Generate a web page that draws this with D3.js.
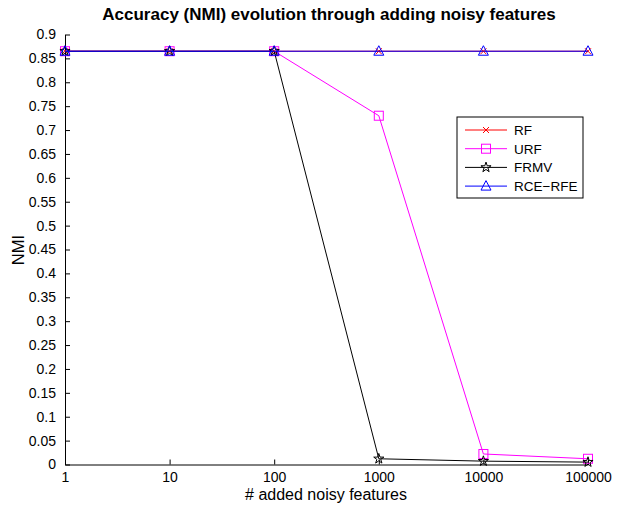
<!DOCTYPE html>
<html>
<head>
<meta charset="utf-8">
<script src="https://cdn.jsdelivr.net/npm/d3@7"></script>
<style>
body{margin:0;background:#fff;}
svg text{font-family:"Liberation Sans",Arial,Helvetica,sans-serif;}
</style>
</head>
<body>
<svg id="chart" width="617" height="505"></svg>
<script>
///--------------------données
var xVals = [1, 10, 100, 1000, 10000, 100000];
var xLabels = ["1", "10", "100", "1000", "10000", "100000"];
var rf = [0.865, 0.865, 0.865, 0.865, 0.865, 0.865];
var urf = [0.865, 0.865, 0.865, 0.73, 0.022, 0.012];
var frmv = [0.865, 0.865, 0.865, 0.012, 0.007, 0.005];
var rcerfe = [0.865, 0.865, 0.865, 0.865, 0.865, 0.865];
var seriesNames = ["RF", "URF", "FRMV", "RCE\u2212RFE"];
var yTicks = d3.range(0, 0.901, 0.05);

///--------------------géométrie
var gLeft = 65, gRight = 588, gTop = 34.5, gBottom = 464.5;
var svg = d3.select("#chart");

var x = d3.scaleLog().domain([1, 100000]).range([gLeft, gRight]);
var y = d3.scaleLinear().domain([0, 0.9]).range([gBottom, gTop]);

// axes, ticks vers l'intérieur façon matlab
var gx = svg.append("g").attr("transform", "translate(0," + gBottom + ")")
	.call(d3.axisBottom(x).tickValues(xVals).tickFormat(function(d, i){ return xLabels[i]; }).tickSizeInner(-5).tickSizeOuter(0).tickPadding(8));
var gy = svg.append("g").attr("transform", "translate(" + gLeft + ",0)")
	.call(d3.axisLeft(y).tickValues(yTicks).tickFormat(function(d){ return +d.toFixed(2) + ""; }).tickSizeInner(-5).tickSizeOuter(0).tickPadding(9));
[gx, gy].forEach(function(g){
	g.selectAll("path").attr("stroke", "#000").attr("stroke-width", 1);
	g.selectAll("line").attr("stroke", "#000").attr("stroke-width", 1);
	g.selectAll("text").attr("font-size", 14).attr("fill", "#000").style("font-family", "Liberation Sans, Arial, sans-serif");
});

///--------------------marqueurs
function marker(g, type, color, cx, cy){
	if(type == "x"){
		g.append("path").attr("d", "M" + (cx-3) + "," + (cy-3) + "L" + (cx+3) + "," + (cy+3) + "M" + (cx-3) + "," + (cy+3) + "L" + (cx+3) + "," + (cy-3))
			.attr("stroke", color).attr("stroke-width", 1).attr("fill", "none");
	} else if(type == "square"){
		g.append("rect").attr("x", cx-4.5).attr("y", cy-4.5).attr("width", 9).attr("height", 9)
			.attr("stroke", color).attr("stroke-width", 1).attr("fill", "none");
	} else if(type == "star"){
		g.append("path").attr("d", d3.symbol(d3.symbolStar, 32)()).attr("transform", "translate(" + cx + "," + cy + ")")
			.attr("stroke", color).attr("stroke-width", 1).attr("fill", "none");
	} else {
		g.append("path").attr("d", "M" + cx + "," + (cy-5.5) + "L" + (cx+5) + "," + (cy+4) + "L" + (cx-5) + "," + (cy+4) + "Z")
			.attr("stroke", color).attr("stroke-width", 1).attr("fill", "none");
	}
}

var series = [
	{name: seriesNames[0], vals: rf, color: "#ff0000", m: "x"},
	{name: seriesNames[1], vals: urf, color: "#ff00ff", m: "square"},
	{name: seriesNames[2], vals: frmv, color: "#000000", m: "star"},
	{name: seriesNames[3], vals: rcerfe, color: "#0000ff", m: "tri"}
];

var line = d3.line().x(function(d, i){ return x(xVals[i]); }).y(function(d){ return y(d); });

series.forEach(function(s){
	var g = svg.append("g");
	g.append("path").attr("d", line(s.vals)).attr("fill", "none").attr("stroke", s.color).attr("stroke-width", 1);
	for(var i = 0; i < s.vals.length; i++){
		marker(g, s.m, s.color, x(xVals[i]), y(s.vals[i]));
	}
});

///--------------------légende
var lg = svg.append("g").attr("transform", "translate(457,117)");
lg.append("rect").attr("width", 126).attr("height", 81).attr("fill", "#fff").attr("stroke", "#000").attr("stroke-width", 1);
series.forEach(function(s, i){
	var yy = 13 + i * 18.7;
	lg.append("line").attr("x1", 8).attr("x2", 50).attr("y1", yy).attr("y2", yy).attr("stroke", s.color).attr("stroke-width", 1);
	marker(lg, s.m, s.color, 29, yy);
	lg.append("text").attr("x", 57).attr("y", yy + 5).attr("font-size", 13.5).text(s.name);
});

///--------------------textes
svg.append("text").attr("x", 329).attr("y", 20).attr("text-anchor", "middle")
	.attr("font-size", 17).attr("font-weight", "bold").text("Accuracy (NMI) evolution through adding noisy features");
svg.append("text").attr("x", 326).attr("y", 500).attr("text-anchor", "middle")
	.attr("font-size", 16).text("# added noisy features");
svg.append("text").attr("transform", "translate(24,250) rotate(-90)").attr("text-anchor", "middle")
	.attr("font-size", 16.5).text("NMI");
</script>
</body>
</html>
